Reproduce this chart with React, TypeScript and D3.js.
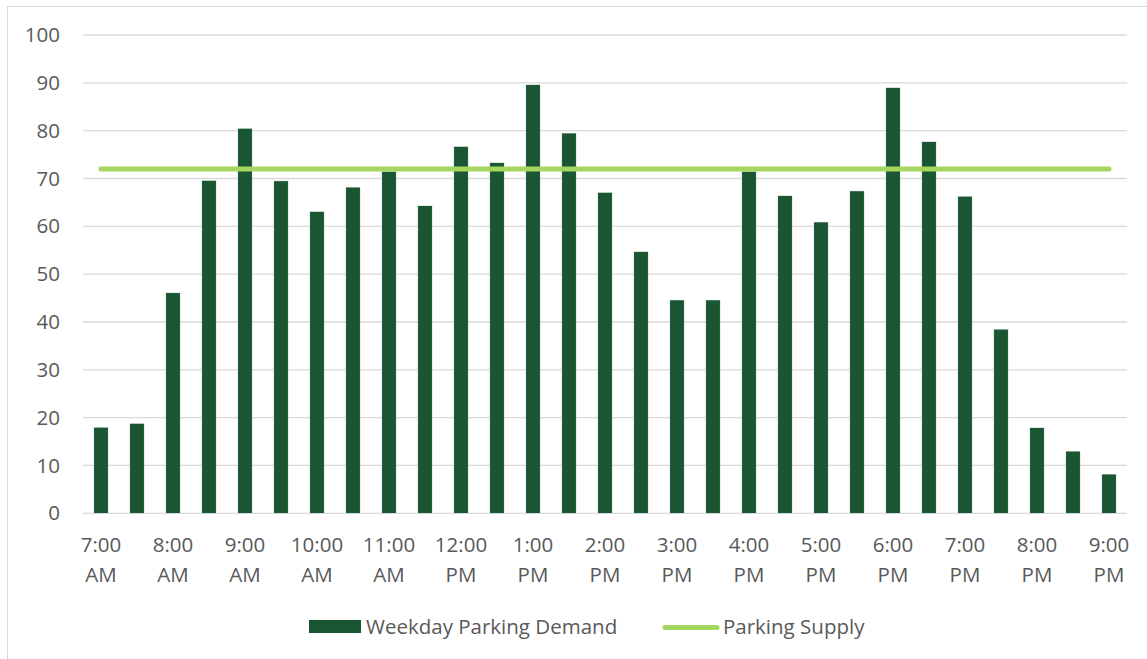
import { useEffect, useRef } from 'react';
import * as d3 from 'd3';

// half-hour slots, 7:00 AM to 9:00 PM
const times = [
  '7:00 AM', '7:30 AM', '8:00 AM', '8:30 AM', '9:00 AM', '9:30 AM', '10:00 AM', '10:30 AM',
  '11:00 AM', '11:30 AM', '12:00 PM', '12:30 PM', '1:00 PM', '1:30 PM', '2:00 PM', '2:30 PM',
  '3:00 PM', '3:30 PM', '4:00 PM', '4:30 PM', '5:00 PM', '5:30 PM', '6:00 PM', '6:30 PM',
  '7:00 PM', '7:30 PM', '8:00 PM', '8:30 PM', '9:00 PM',
];
const demand = [
  18, 18.8, 46.1, 69.6, 80.5, 69.5, 63.1, 68.2, 71.5, 64.3, 76.7, 73.3, 89.6, 79.5, 67.1,
  54.7, 44.6, 44.6, 71.5, 66.4, 60.9, 67.4, 89, 77.7, 66.3, 38.5, 17.9, 13, 8.2,
];
const supply = times.map(() => 72);
const yTicks = [0, 10, 20, 30, 40, 50, 60, 70, 80, 90, 100];
const seriesNames = ['Weekday Parking Demand', 'Parking Supply'];

const W = 1147;
const H = 659;
const BAR = '#1b5633';
const LINE = '#a5d65f';
const TXT = '#595959';
const FONT = '"Open Sans", sans-serif';
const FS = 20.5;

const App: any = () => {
  const svgRef = useRef<any>(null);

  useEffect(() => {
    const svg = d3.select(svgRef.current);
    svg.selectAll('*').remove();

    const left = 83, right = 1127, top = 35, bottom = 513.3;

    const x = d3.scaleBand<string>()
      .domain(times)
      .range([left, right])
      .paddingInner(0.6)
      .paddingOuter(0.3);
    const y = d3.scaleLinear().domain([0, 100]).range([bottom, top]);

    // outer chart frame (cropped on right/bottom)
    svg.append('rect')
      .attr('x', 7.5).attr('y', 6.5)
      .attr('width', W).attr('height', H)
      .attr('fill', '#fff')
      .attr('stroke', '#d9d9d9')
      .attr('stroke-width', 1);

    // gridlines
    svg.append('g')
      .selectAll('line')
      .data(yTicks)
      .join('line')
      .attr('x1', left).attr('x2', right)
      .attr('y1', (d) => y(d)).attr('y2', (d) => y(d))
      .attr('stroke', '#d9d9d9')
      .attr('stroke-width', 1.3);

    // y labels
    svg.append('g')
      .selectAll('text')
      .data(yTicks)
      .join('text')
      .attr('x', 60)
      .attr('y', (d) => y(d))
      .attr('dy', '0.35em')
      .attr('text-anchor', 'end')
      .attr('font-family', FONT)
      .attr('font-size', FS)
      .attr('fill', TXT)
      .text((d) => d);

    // bars
    svg.append('g')
      .selectAll('rect')
      .data(demand)
      .join('rect')
      .attr('x', (d, i) => x(times[i])!)
      .attr('y', (d) => y(d))
      .attr('width', x.bandwidth())
      .attr('height', (d) => y(0) - y(d))
      .attr('fill', BAR)
      .attr('stroke', '#ffffff')
      .attr('stroke-width', 0.5);

    // supply line
    const line = d3.line<number>()
      .x((d, i) => x(times[i])! + x.bandwidth() / 2)
      .y((d) => y(d));
    svg.append('path')
      .attr('d', line(supply))
      .attr('fill', 'none')
      .attr('stroke', LINE)
      .attr('stroke-width', 5)
      .attr('stroke-linecap', 'round');

    // x labels, hourly only
    const xl = svg.append('g')
      .selectAll('text')
      .data(times.filter((t, i) => i % 2 === 0))
      .join('text')
      .attr('x', (d) => x(d)! + x.bandwidth() / 2)
      .attr('text-anchor', 'middle')
      .attr('font-family', FONT)
      .attr('font-size', FS)
      .attr('fill', TXT);
    xl.append('tspan').attr('y', 552).attr('x', (d) => x(d)! + x.bandwidth() / 2).text((d) => d.split(' ')[0]);
    xl.append('tspan').attr('y', 582).attr('x', (d) => x(d)! + x.bandwidth() / 2).text((d) => d.split(' ')[1]);

    // legend
    const lg = svg.append('g').attr('font-family', FONT).attr('font-size', FS).attr('fill', TXT);
    lg.append('rect').attr('x', 309).attr('y', 620).attr('width', 52).attr('height', 13).attr('fill', BAR);
    lg.append('text').attr('x', 366).attr('y', 634).text(seriesNames[0]);
    lg.append('line')
      .attr('x1', 665).attr('x2', 717).attr('y1', 627.5).attr('y2', 627.5)
      .attr('stroke', LINE).attr('stroke-width', 5).attr('stroke-linecap', 'round');
    lg.append('text').attr('x', 723).attr('y', 634).text(seriesNames[1]);
  }, []);

  return (
    <svg
      ref={svgRef}
      width={W}
      height={H}
      style={{ position: 'absolute', left: 0, top: 0, display: 'block' }}
    />
  );
};

export default App;
